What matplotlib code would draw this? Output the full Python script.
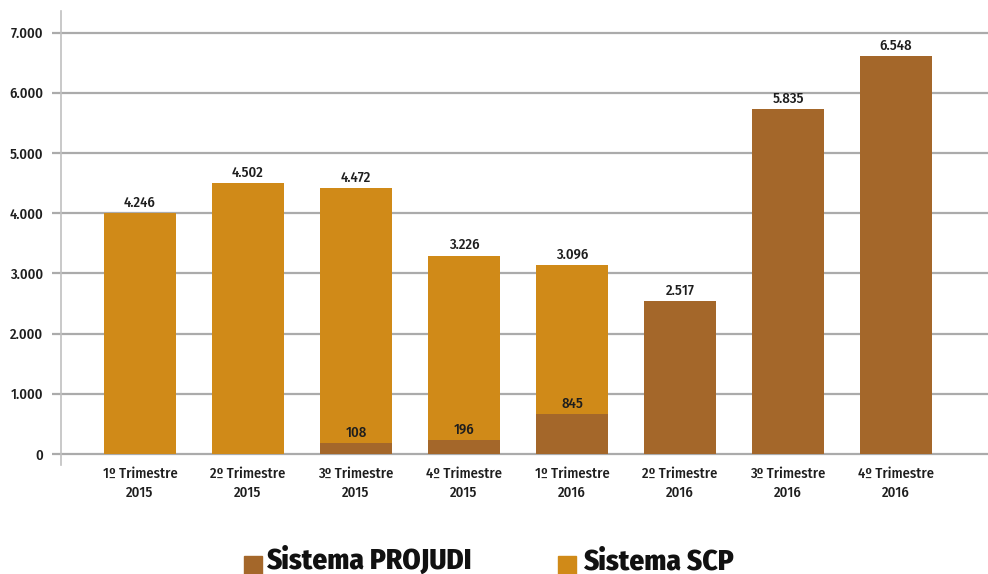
import matplotlib.pyplot as plt
import numpy as np
from matplotlib.patches import Rectangle

# categories and values
quarters = ['1º Trimestre\n2015', '2º Trimestre\n2015', '3º Trimestre\n2015', '4º Trimestre\n2015',
            '1º Trimestre\n2016', '2º Trimestre\n2016', '3º Trimestre\n2016', '4º Trimestre\n2016']
# drawn heights (as they appear in the reference)
projudi = [0, 0, 183, 233, 664, 2542, 5731, 6611]
scp = [4000, 4500, 4237, 3057, 2476, 0, 0, 0]
# printed labels
top_labels = ['4.246', '4.502', '4.472', '3.226', '3.096', '2.517', '5.835', '6.548']
projudi_labels = ['', '', '108', '196', '845', '', '', '']

yticks = [0, 1000, 2000, 3000, 4000, 5000, 6000, 7000]
ytick_labels = ['0', '1.000', '2.000', '3.000', '4.000', '5.000', '6.000', '7.000']

c_projudi = '#A4672A'
c_scp = '#D08A18'
grid_c = '#ABABAB'
txt_c = '#1E1E1E'
plt.rcParams['font.family'] = ['Fira Sans Condensed', 'PT Sans Narrow', 'DejaVu Sans']
plt.rcParams['font.weight'] = 500

W, H = 988, 574
fig = plt.figure(figsize=(W / 100, H / 100), dpi=100)
ax = fig.add_axes([61 / W, 1 - 465 / H, (988 - 61) / W, (465 - 11) / H])

x = np.arange(len(quarters))
ax.bar(x, projudi, width=0.667, color=c_projudi, zorder=2)
ax.bar(x, scp, width=0.667, bottom=projudi, color=c_scp, zorder=2)

tops = np.array(projudi) + np.array(scp)
for i in range(len(x)):
    ax.annotate(top_labels[i], (x[i], tops[i]), xytext=(0, 2.5), textcoords='offset points',
                ha='center', va='bottom', fontsize=10.5, color=txt_c)
    if projudi_labels[i]:
        ax.annotate(projudi_labels[i], (x[i], projudi[i]), xytext=(0, 2), textcoords='offset points',
                    ha='center', va='bottom', fontsize=10.5, color=txt_c)

ax.set_xlim(-0.731, 7.852)
ax.set_ylim(-183, 7359)
ax.set_yticks(yticks)
ax.set_yticklabels(ytick_labels)
ax.set_xticks(x)
ax.set_xticklabels(quarters, linespacing=1.45)
ax.grid(axis='y', color=grid_c, linewidth=1.6, zorder=1)
ax.set_axisbelow(True)
ax.tick_params(axis='y', length=6.5, width=1.6, color=grid_c, labelsize=10.5, labelcolor=txt_c, pad=6.5)
ax.tick_params(axis='x', length=0, labelsize=10.5, labelcolor=txt_c, pad=1.5)
for s in ['top', 'right', 'bottom']:
    ax.spines[s].set_visible(False)
ax.spines['left'].set_color('#C0C0C0')
ax.spines['left'].set_linewidth(1.2)

# legend drawn at the bottom
fig.patches.append(Rectangle((244 / W, 1 - 574 / H), 18 / W, 18 / H, transform=fig.transFigure,
                             color=c_projudi))
fig.text(266 / W, 1 - 569 / H, 'Sistema PROJUDI', fontsize=21, fontweight=800, color='#111111',
         ha='left', va='baseline')
fig.patches.append(Rectangle((558 / W, 1 - 574 / H), 18 / W, 18 / H, transform=fig.transFigure,
                             color=c_scp))
fig.text(583 / W, 1 - 569 / H, 'Sistema SCP', fontsize=21, fontweight=800, color='#111111',
         ha='left', va='baseline')

plt.savefig('out.png', dpi=100)
